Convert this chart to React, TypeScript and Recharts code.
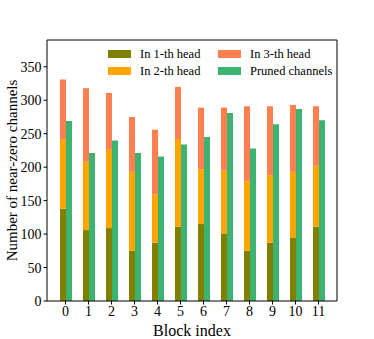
import { Bar, BarChart, Legend, XAxis, YAxis } from "recharts"

const blocks = ["0", "1", "2", "3", "4", "5", "6", "7", "8", "9", "10", "11"]
const head1 = [138, 106, 109, 75, 87, 111, 115, 101, 75, 87, 95, 111]
const head2 = [103, 102, 117, 118, 72, 131, 82, 94, 104, 101, 98, 91]
const head3 = [90, 110, 85, 82, 97, 78, 92, 94, 112, 103, 100, 89]
const pruned = [269, 221, 240, 221, 216, 234, 245, 281, 228, 264, 287, 270]
const yTicks = [0, 50, 100, 150, 200, 250, 300, 350]

const series = [
    { key: "h1", name: "In 1-th head", color: "#808000" },
    { key: "h2", name: "In 2-th head", color: "#FFA500" },
    { key: "h3", name: "In 3-th head", color: "#FF7F50" },
    { key: "pruned", name: "Pruned channels", color: "#3CB371" },
]

const data = blocks.map((b, i) => ({
    block: b,
    h1: head1[i],
    h2: head2[i],
    h3: head3[i],
    pruned: pruned[i],
}))

const font = "'Liberation Serif', 'Times New Roman', serif"

// legend goes column-wise like matplotlib's ncol=2
const legendOrder = [0, 2, 1, 3]

function LegendBox() {
    return (
        <div style={{ display: "grid", gridTemplateColumns: "110px 120px", rowGap: 1, fontFamily: font, fontSize: 12.5, color: "#000" }}>
            {legendOrder.map((idx) => {
                const s = series[idx]
                return (
                    <div key={s.key} style={{ display: "flex", alignItems: "center", height: 16 }}>
                        <span style={{ display: "inline-block", width: 23, height: 8, background: s.color, marginRight: 9 }} />
                        <span>{s.name}</span>
                    </div>
                )
            })}
        </div>
    )
}

export default function App() {
    return (
        <div style={{ position: "absolute", left: 0, top: 0, width: 374, height: 339, background: "#fff" }}>
            <BarChart
                width={374}
                height={339}
                data={data}
                margin={{ top: 39, right: 36, bottom: 0, left: 0 }}
                barSize={6}
                barGap={0}
                style={{ fontFamily: font }}
            >
                <XAxis
                    dataKey="block"
                    height={38}
                    padding={{ left: 7, right: 7 }}
                    stroke="#000"
                    tickSize={3.5}
                    tick={{ fill: "#000", fontSize: 14, fontFamily: font }}
                    label={{ value: "Block index", position: "insideBottom", offset: 3, fill: "#000", fontSize: 16, fontFamily: font }}
                />
                <XAxis xAxisId="top" dataKey="block" orientation="top" height={1} tick={false} tickLine={false} stroke="#000" />
                <YAxis
                    width={47}
                    domain={[0, 390]}
                    ticks={yTicks}
                    stroke="#000"
                    tickSize={3.5}
                    tick={{ fill: "#000", fontSize: 14, fontFamily: font }}
                    label={{
                        value: "Number of near-zero channels",
                        angle: -90,
                        position: "insideLeft",
                        offset: 12,
                        fill: "#000",
                        fontSize: 15,
                        fontFamily: font,
                        style: { textAnchor: "middle" },
                    }}
                />
                <YAxis yAxisId="right" orientation="right" width={1} tick={false} tickLine={false} stroke="#000" />
                <Legend
                    layout="horizontal"
                    verticalAlign="middle"
                    align="center"
                    content={() => <LegendBox />}
                    wrapperStyle={{ left: 108, top: 46, width: 240 }}
                />
                <Bar dataKey="h1" name={series[0].name} stackId="a" fill={series[0].color} isAnimationActive={false} />
                <Bar dataKey="h2" name={series[1].name} stackId="a" fill={series[1].color} isAnimationActive={false} />
                <Bar dataKey="h3" name={series[2].name} stackId="a" fill={series[2].color} isAnimationActive={false} />
                <Bar dataKey="pruned" name={series[3].name} fill={series[3].color} isAnimationActive={false} />
            </BarChart>
        </div>
    )
}
